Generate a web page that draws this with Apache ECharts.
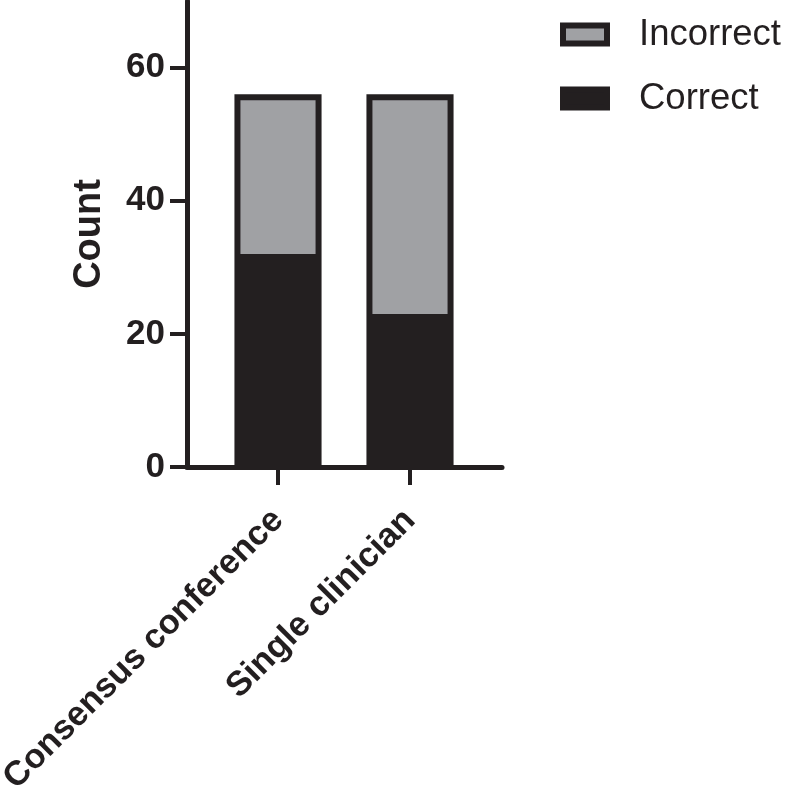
<!DOCTYPE html>
<html>
<head>
<meta charset="utf-8">
<style>html,body{margin:0;padding:0;background:#fff}#c{width:787px;height:789px}</style>
<script src="https://cdn.jsdelivr.net/npm/echarts@6/dist/echarts.min.js"></script>
</head>
<body>
<div id="c"></div>
<script>
var categories = ['Consensus conference', 'Single clinician'];
var correct = [32, 23];
var incorrect = [24, 33];
var yTicks = [0, 20, 40, 60];

var INK = '#231f20';
var GRAY = '#a0a1a4';
var BORDER = 6;

// stacked ranges built from the data arrays: [categoryIndex, low, high]
var correctData = categories.map(function (c, i) { return [i, 0, correct[i]]; });
var incorrectData = categories.map(function (c, i) { return [i, correct[i], correct[i] + incorrect[i]]; });

function makeRender(fill) {
  return function (params, api) {
    var lo = api.coord([api.value(0), api.value(1)]);
    var hi = api.coord([api.value(0), api.value(2)]);
    var bw = api.size([1, 0])[0] * 0.66;
    var x = lo[0] - bw / 2, y = hi[1], h = lo[1] - hi[1];
    var children = [{type: 'rect', shape: {x: x, y: y, width: bw, height: h}, style: {fill: INK}}];
    if (fill !== INK) {
      children.push({type: 'rect', shape: {x: x + BORDER, y: y + BORDER, width: bw - 2 * BORDER, height: h - BORDER}, style: {fill: fill}});
    }
    return {type: 'group', children: children};
  };
}

var chart = echarts.init(document.getElementById('c'));
chart.setOption({
  animation: false,
  backgroundColor: '#fff',
  grid: [
    {left: 187, width: 315, top: 1, bottom: 322, containLabel: false, outerBoundsMode: 'none'},
    {left: 212, width: 264, top: 1, bottom: 322, containLabel: false, outerBoundsMode: 'none'}
  ],
  legend: {
    orient: 'vertical', left: 560, top: 16, padding: 0, itemWidth: 44, itemHeight: 18, itemGap: 27,
    icon: 'rect',
    textStyle: {fontFamily: 'Liberation Sans', fontSize: 36.5, color: INK, padding: [0, 0, 0, 27], lineHeight: 36},
    data: [
      {name: 'Incorrect', itemStyle: {color: GRAY, borderColor: INK, borderWidth: 6}},
      {name: 'Correct', itemStyle: {color: INK, borderColor: INK, borderWidth: 6}}
    ]
  },
  xAxis: [
    {gridIndex: 0, type: 'value', min: 0, max: 1, axisLine: {show: true, lineStyle: {color: INK, width: 5}},
     axisTick: {show: false}, axisLabel: {show: false}, splitLine: {show: false}},
    {gridIndex: 1, type: 'category', data: categories, boundaryGap: true,
     axisLine: {show: false},
     axisTick: {show: true, alignWithLabel: true, length: 18, lineStyle: {color: INK, width: 4}},
     axisLabel: {rotate: 45, margin: 48, fontFamily: 'Liberation Sans', fontWeight: 'bold', fontSize: 34.5, color: INK, interval: 0},
     splitLine: {show: false}}
  ],
  yAxis: [
    {gridIndex: 0, type: 'value', min: 0, max: 70, interval: 20,
     name: 'Count', nameLocation: 'middle', nameRotate: 90, nameGap: 78,
     nameTextStyle: {fontFamily: 'Liberation Sans', fontWeight: 'bold', fontSize: 38, color: INK},
     axisLine: {show: true, lineStyle: {color: INK, width: 5}},
     axisTick: {show: true, length: 17, lineStyle: {color: INK, width: 4}, customValues: yTicks},
     axisLabel: {margin: 22, fontFamily: 'Liberation Sans', fontWeight: 'bold', fontSize: 35, color: INK, customValues: yTicks},
     splitLine: {show: false}},
    {gridIndex: 1, type: 'value', min: 0, max: 70, interval: 20, show: false, splitLine: {show: false}}
  ],
  series: [
    {name: 'Correct', type: 'custom', xAxisIndex: 1, yAxisIndex: 1, itemStyle: {color: INK},
     encode: {x: 0, y: [1, 2]}, renderItem: makeRender(INK), data: correctData},
    {name: 'Incorrect', type: 'custom', xAxisIndex: 1, yAxisIndex: 1, itemStyle: {color: GRAY},
     encode: {x: 0, y: [1, 2]}, renderItem: makeRender(GRAY), data: incorrectData}
  ]
});
</script>
</body>
</html>
